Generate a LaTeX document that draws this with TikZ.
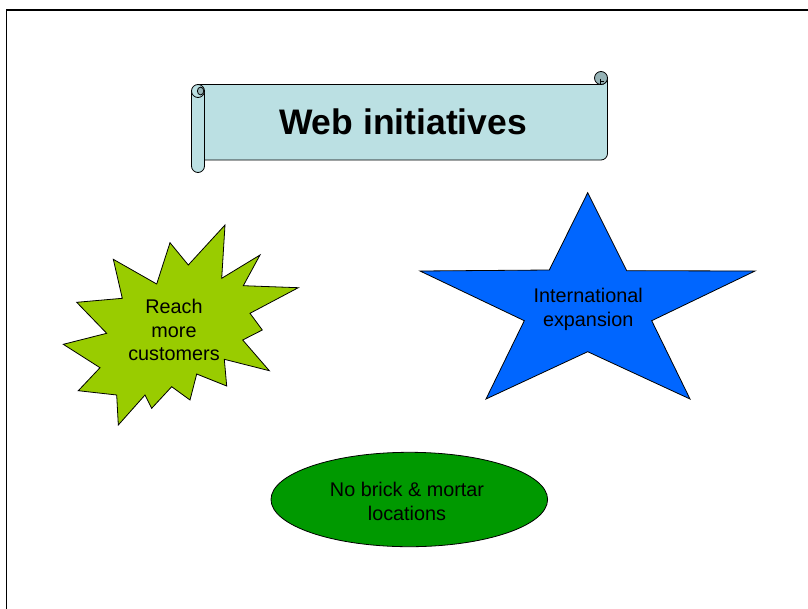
\documentclass[tikz,border=0pt]{standalone}
\usepackage{fontspec}
\setmainfont{Liberation Sans}
\definecolor{scrollblue}{HTML}{BBE0E3}
\definecolor{scrolldark}{HTML}{96B3B6}
\definecolor{burstgreen}{HTML}{99CC00}
\definecolor{starblue}{HTML}{0066FF}
\definecolor{ovalgreen}{HTML}{009900}
\begin{document}
\begin{tikzpicture}[x=1pt,y=-1pt,
  shapeline/.style={draw=black,line width=0.8pt,line join=miter},
  bodytext/.style={font=\fontsize{19.8}{23.8}\selectfont,align=center,text=black,inner sep=0pt},
  titletext/.style={font=\fontsize{35.5}{40}\selectfont\bfseries,text=black,inner sep=0pt},
  frameline/.style={draw=black,line width=1.8pt}
]
\useasboundingbox (0,0) rectangle (808,608);
% page frame
\draw[frameline] (6.5,610) -- (6.5,10) -- (810,10);

% ---- scroll banner ----
\draw[shapeline, fill=scrollblue] (198,84.5) -- (601,84.5)
  arc[start angle=90,end angle=0,radius=6.5] -- (607.5,153.5)
  arc[start angle=0,end angle=90,radius=6.5] -- (198,160) -- cycle;
% right curl
\draw[shapeline, fill=scrolldark] (601,78) circle[radius=6.5];
\draw[black,line width=0.7pt] (600,78.5) -- (600,84.5);
\draw[black,line width=0.7pt] (600,81) -- (604,81);
% left roll
\draw[shapeline, fill=scrollblue] (191.5,91) -- (191.5,166)
  arc[start angle=180,end angle=0,radius=6.5] -- (204.5,91);
\draw[shapeline, fill=scrollblue] (198,91) circle[radius=6.5];
\draw[shapeline, fill=scrolldark] (200.6,91) ellipse[x radius=3.2,y radius=3.9];
\node[titletext] (title) at (403,121.5) {Web initiatives};

% ---- explosion ----
\draw[shapeline, fill=burstgreen]
  (225,225) -- (221.7,278.3) -- (260,255) -- (243.3,285.7) -- (298.3,287.7)
  -- (250,313.3) -- (262.3,330) -- (242.7,340) -- (269.3,370.7) -- (224.3,359.3)
  -- (226.7,386) -- (196.7,374) -- (190,400) -- (171.7,386.7) -- (151.7,408.3)
  -- (145,395) -- (118.3,425) -- (116.7,395) -- (78.3,390.7) -- (100,367.7)
  -- (63.3,344.3) -- (106.7,333.3) -- (76.7,302.3) -- (122.3,298.3)
  -- (113.3,259.3) -- (156.7,284) -- (170,242.7) -- (188.3,265) -- cycle;
\node[bodytext] (reach) at (174,330) {Reach\\more\\customers};

% ---- star ----
\draw[shapeline, fill=starblue]
  (587.7,192.7) -- (626.7,270.7) -- (755,271) -- (651.7,320.7) -- (690,399)
  -- (587.7,351.7) -- (486,399) -- (524.3,320.7) -- (420,271) -- (549.3,270) -- cycle;
\node[bodytext] (intl) at (588.2,309.5) {International\\expansion};

% ---- oval ----
\draw[shapeline, fill=ovalgreen] (409.3,499.5) ellipse[x radius=138.3,y radius=47.2];
\node[bodytext] (brick) at (407,501.5) {No brick \& mortar\\locations};
\end{tikzpicture}
\end{document}
